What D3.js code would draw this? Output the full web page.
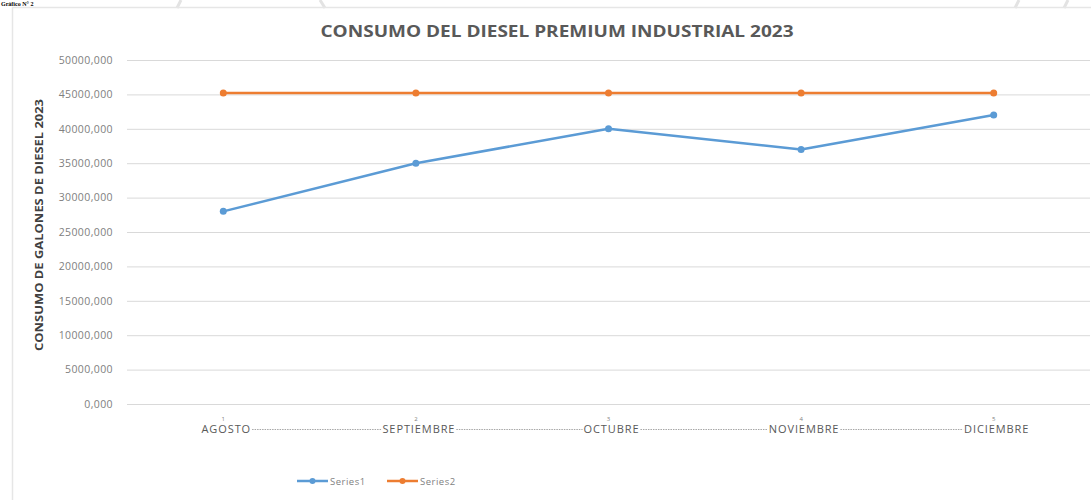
<!DOCTYPE html>
<html>
<head>
<meta charset="utf-8">
<script src="https://cdn.jsdelivr.net/npm/d3@7"></script>
<style>
  body{margin:0;background:#fff;}
  text{font-family:"Open Sans",sans-serif;}
</style>
</head>
<body>
<div id="chart"></div>
<script>
// data
var months=["AGOSTO","SEPTIEMBRE","OCTUBRE","NOVIEMBRE","DICIEMBRE"];
var monthNums=["1","2","3","4","5"];
var series1=[28000,35000,40000,37000,42000];
var series2=[45200,45200,45200,45200,45200];
var seriesNames=["Series1","Series2"];
var seriesColors=["#5b9bd5","#ed7d31"];
var yTicks=[0,5000,10000,15000,20000,25000,30000,35000,40000,45000,50000];

var W=1091,H=500;
var plot={left:127,right:1090,top:60,bottom:404};

var svg=d3.select("#chart").append("svg")
  .attr("width",W).attr("height",H);

//page bits around the chart (caption + frame)
svg.append("text")
  .attr("x",1).attr("y",6)
  .style("font-family","'Liberation Serif',serif")
  .style("font-size","6px").style("font-weight","bold")
  .attr("fill","#000")
  .text("Gráfico N° 2");
[[181,0,177,8],[320,0,325,8],[1019,0,1015,8],[1068,0,1064,8]].forEach(function(s){
  svg.append("line").attr("x1",s[0]).attr("y1",s[1]).attr("x2",s[2]).attr("y2",s[3])
    .attr("stroke","#e3e3e3").attr("stroke-width",3);
});
svg.append("path")
  .attr("d","M12.5,"+H+"V7.5H"+W)
  .attr("fill","none").attr("stroke","#e6e6e6").attr("stroke-width",1.5);

//title
svg.append("text")
  .attr("x",557).attr("y",37)
  .attr("text-anchor","middle")
  .attr("fill","#595959")
  .style("font-weight","bold")
  .style("font-size","16px")
  .attr("textLength",473).attr("lengthAdjust","spacingAndGlyphs")
  .text("CONSUMO DEL DIESEL PREMIUM INDUSTRIAL 2023");

//scales
var x=d3.scaleBand().domain(months).range([plot.left,plot.right]);
var y=d3.scaleLinear().domain([0,50000]).range([plot.bottom,plot.top]);

var locale=d3.formatLocale({decimal:",",thousands:".",grouping:[3],currency:["$",""]});
var fmt=locale.format(".3f");

//y axis with grid
svg.append("g")
  .attr("transform","translate("+plot.left+",0)")
  .call(d3.axisLeft(y).tickValues(yTicks).tickFormat(fmt)
        .tickSize(-(plot.right-plot.left)).tickPadding(14))
  .call(function(g){g.select(".domain").remove();})
  .call(function(g){
    g.selectAll(".tick line").attr("stroke","#d9d9d9").attr("stroke-width",1);
    g.selectAll(".tick text").attr("fill","#808080")
      .style("font-size","10.5px").style("letter-spacing","0.4px")
      .style("font-family","'Open Sans',sans-serif");
  });

//y axis title
svg.append("text")
  .attr("transform","translate(43,225) rotate(-90)")
  .attr("text-anchor","middle")
  .attr("fill","#404040")
  .style("font-weight","bold")
  .style("font-size","10px")
  .attr("textLength",252).attr("lengthAdjust","spacingAndGlyphs")
  .text("CONSUMO DE GALONES DE DIESEL 2023");

//x axis labels
var xLab=svg.append("g").attr("id","xAxis");
var labs=xLab.selectAll("text.cat").data(months).join("text")
  .attr("class","cat")
  .attr("x",function(d){return x(d)+x.bandwidth()/2+3;})
  .attr("y",433)
  .attr("text-anchor","middle")
  .attr("fill","#595959")
  .style("font-size","11px")
  .style("letter-spacing","0.9px")
  .text(function(d){return d;});
xLab.selectAll("text.num").data(monthNums).join("text")
  .attr("class","num")
  .attr("x",function(d,i){return x(months[i])+x.bandwidth()/2;})
  .attr("y",421)
  .attr("text-anchor","middle")
  .attr("fill","#7f7f7f")
  .style("font-size","6px")
  .text(function(d){return d;});

//dotted connectors between labels
var boxes=[];
labs.each(function(){boxes.push(this.getBBox());});
for(var i=0;i<boxes.length-1;i++){
  xLab.append("line")
    .attr("x1",boxes[i].x+boxes[i].width+1).attr("x2",boxes[i+1].x-1)
    .attr("y1",429.5).attr("y2",429.5)
    .attr("stroke","#a6a6a6").attr("stroke-width",1)
    .attr("stroke-dasharray","1.5,1");
}

//lines
var line=d3.line()
  .x(function(d,i){return x(months[i])+x.bandwidth()/2;})
  .y(function(d){return y(d);});
[series1,series2].forEach(function(s,k){
  var g=svg.append("g").attr("id","series"+(k+1));
  g.append("path").datum(s)
    .attr("d",line)
    .attr("fill","none")
    .attr("stroke",seriesColors[k])
    .attr("stroke-width",2.5)
    .attr("stroke-linejoin","round");
  g.selectAll("circle").data(s).join("circle")
    .attr("cx",function(d,i){return x(months[i])+x.bandwidth()/2;})
    .attr("cy",function(d){return y(d);})
    .attr("r",3.5)
    .attr("fill",seriesColors[k]);
});

//legend
var leg=svg.append("g").attr("transform","translate(297,481)");
seriesNames.forEach(function(n,k){
  var lg=leg.append("g").attr("transform","translate("+(k*90)+",0)");
  lg.append("line").attr("x1",0).attr("x2",31).attr("y1",0).attr("y2",0)
    .attr("stroke",seriesColors[k]).attr("stroke-width",2.5);
  lg.append("circle").attr("cx",15.5).attr("cy",0).attr("r",3).attr("fill",seriesColors[k]);
  lg.append("text").attr("x",33).attr("y",3.5)
    .attr("fill","#7f7f7f").style("font-size","9.5px").style("letter-spacing","0.5px").text(n);
});
</script>
</body>
</html>
